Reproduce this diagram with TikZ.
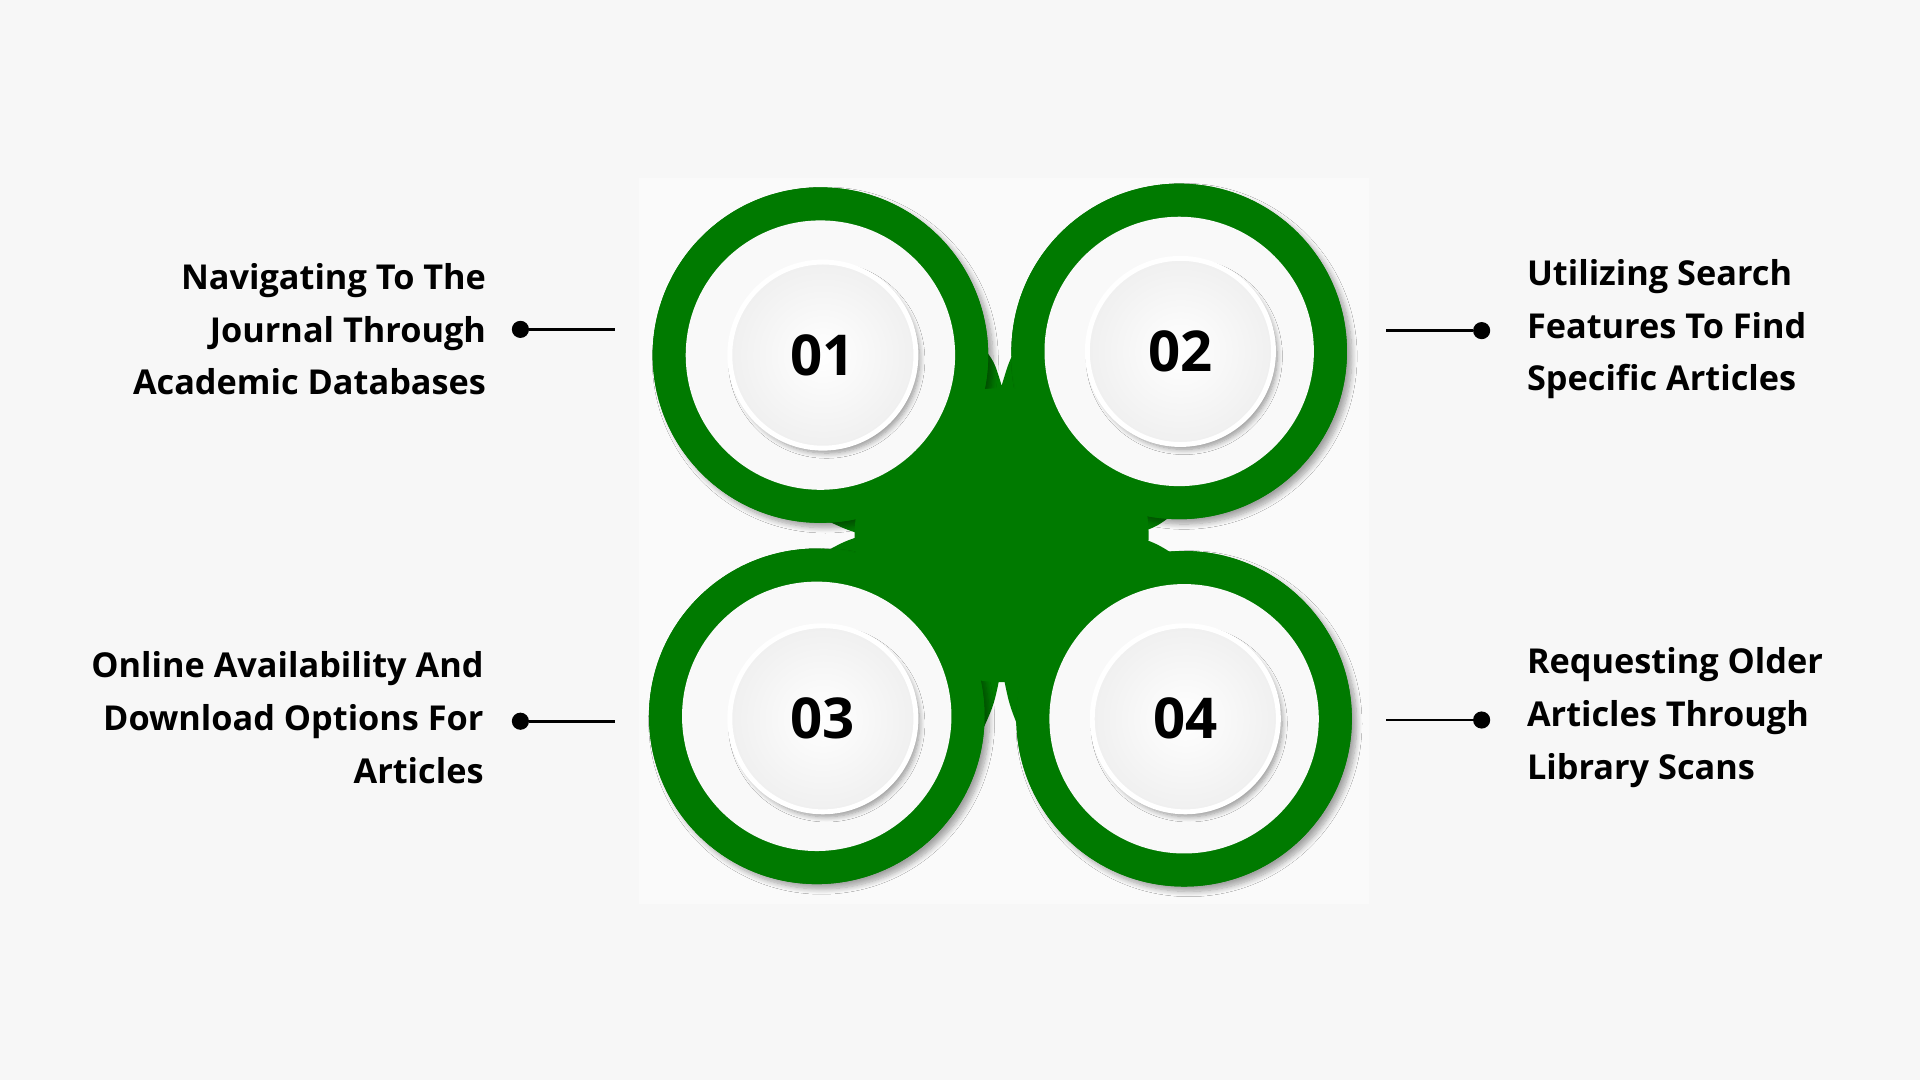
\documentclass[tikz,border=0pt]{standalone}
\usepackage{fontspec}
\setmainfont{Open Sans}
\usetikzlibrary{shadows.blur}
\definecolor{grn}{HTML}{007A00}
\definecolor{bg}{HTML}{F7F7F7}
\tikzset{
  lbl/.style={font=\fontsize{14}{21.5}\selectfont\bfseries, align=#1, text=black},
  num/.style={font=\fontsize{23}{23}\selectfont\bfseries, text=black},
  ring/.style={fill=grn, blur shadow={shadow blur steps=8, shadow xshift=2pt, shadow yshift=-2pt, shadow opacity=35}},
  btn/.style={circle, minimum size=76pt, inner sep=0pt, shade, inner color=white, outer color=gray!12, draw=white, line width=2pt, blur shadow={shadow blur steps=8, shadow xshift=1.5pt, shadow yshift=-2pt, shadow opacity=40}},
  dotc/.style={circle, fill=black, minimum size=7pt, inner sep=0pt},
  con/.style={line width=1.2pt}
}
\begin{document}
\begin{tikzpicture}[x=0.5pt,y=-0.5pt]
\fill[bg] (0,0) rectangle (1568,882);
\useasboundingbox (0,0) rectangle (1568,882);
\fill[white!40!bg] (522,145) rectangle (1118,738);
% central blob
\fill[grn] (670,290) -- (800,280) .. controls (812,295) .. (818,315) .. controls (824,295) .. (832,280) -- (963,287)
  -- (958,420) .. controls (945,430) .. (925,437) .. controls (945,444) .. (962,455) -- (967,587)
  -- (832,595) .. controls (824,575) .. (818,545) .. controls (812,575) .. (803,595) -- (667,585)
  -- (675,450) .. controls (690,442) .. (705,437) .. controls (690,432) .. (675,425) -- cycle;
\foreach \p/\q in {670/290,963/287,667/585,967/587}{
  \path[ring] (\p,\q) circle[radius=68.5pt];
}
\fill[grn] (818,437) circle[radius=60pt];
\foreach \p/\q in {670/290,963/287,667/585,967/587}{
  \fill[grn] (\p,\q) circle[radius=68.5pt];
  \fill[bg!70!white] (\p,\q) circle[radius=55pt];
}
\node[btn] (b1) at (672,290) {}; \node[num] at (b1) {01};
\node[btn] (b2) at (964,287) {}; \node[num] at (b2) {02};
\node[btn] (b3) at (672,587) {}; \node[num] at (b3) {03};
\node[btn] (b4) at (968,587) {}; \node[num] at (b4) {04};
% labels
\node[lbl=right, anchor=east] (t1) at (404,269) {Navigating To The\\Journal Through\\Academic Databases};
\node[lbl=left, anchor=west] (t2) at (1240,269) {Utilizing Search\\Features To Find\\Specific Articles};
\node[lbl=right, anchor=east] (t3) at (402,586) {Online Availability And\\Download Options For\\Articles};
\node[lbl=left, anchor=west] (t4) at (1240,586) {Requesting Older\\Articles Through\\Library Scans};
\node[dotc] (d1) at (425,269) {}; \coordinate (e1) at (502,269);
\node[dotc] (d2) at (1210,270) {}; \coordinate (e2) at (1132,270);
\node[dotc] (d3) at (425,589) {}; \coordinate (e3) at (502,589);
\node[dotc] (d4) at (1210,588) {}; \coordinate (e4) at (1132,588);
\draw[con] (d1) -- (e1); \draw[con] (d2) -- (e2);
\draw[con] (d3) -- (e3); \draw[con] (d4) -- (e4);
\end{tikzpicture}
\end{document}
